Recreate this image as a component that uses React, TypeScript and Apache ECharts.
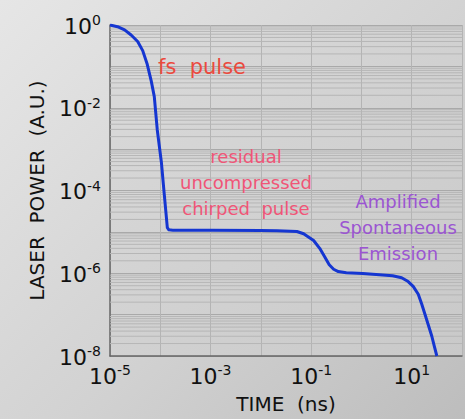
import React, { useEffect, useRef } from "react";
import * as echarts from "echarts";

const timeNs = [
  1e-5, 1.41e-5, 1.95e-5, 2.63e-5, 3.55e-5, 4.47e-5, 5.5e-5, 6.6e-5, 7.6e-5, 8.7e-5,
  1.05e-4, 1.2e-4, 1.38e-4, 1.48e-4, 1.78e-4, 1e-3, 1e-2, 2.1e-2, 5.2e-2, 7.1e-2,
  8.1e-2, 0.112, 0.148, 0.182, 0.229, 0.28, 0.347, 0.5, 1.07, 4.17,
  6.3, 8.5, 10.7, 13.5, 15.8, 18.2, 21.4, 25.1, 28.2, 31.6,
];
const power = [
  1, 0.91, 0.76, 0.575, 0.4, 0.24, 0.112, 0.0447, 0.0186, 0.00295,
  4.9e-4, 8.1e-5, 1.26e-5, 1.12e-5, 1.1e-5, 1.09e-5, 1.08e-5, 1.07e-5, 1.02e-5, 9.0e-6,
  8.1e-6, 6.2e-6, 4.0e-6, 2.6e-6, 1.6e-6, 1.25e-6, 1.1e-6, 1.03e-6, 9.8e-7, 8.7e-7,
  7.8e-7, 6.3e-7, 4.8e-7, 3.1e-7, 1.8e-7, 1.05e-7, 5.6e-8, 3e-8, 1.7e-8, 1e-8,
];

const yMinorExps = [-8, -7, -6, -5, -4, -3, -2, -1];
const minorMultipliers = [2, 3, 4, 5, 6, 7, 8, 9];

const xTitle = "TIME  (ns)";
const yTitle = "LASER  POWER  (A.U.)";

const annotations = [
  { text: "fs  pulse", x: 158, y: 67, color: "#eb4a3e", size: 21, align: "left" },
  { text: "residual\nuncompressed\nchirped  pulse", x: 246, y: 182, color: "#f05577", size: 18, align: "center" },
  { text: "Amplified\nSpontaneous\nEmission", x: 398, y: 227, color: "#9b55d2", size: 18, align: "center" },
];

const FONT = "DejaVu Sans";

function expLabel(value: number, show: (e: number) => boolean) {
  const e = Math.round(Math.log10(value));
  if (!show(e)) return "";
  return `{b|10}{s|${e}}`;
}

export default function App() {
  const ref = useRef<HTMLDivElement>(null);
  useEffect(() => {
    if (!ref.current) return;
    const chart = echarts.init(ref.current, undefined, { renderer: "svg" });
    const minorValues: number[] = [];
    yMinorExps.forEach((e) => {
      minorMultipliers.forEach((m) => {
        minorValues.push(m * Math.pow(10, e));
      });
    });
    const rich = {
      b: { fontSize: 22, fontFamily: FONT, color: "#111", verticalAlign: "bottom" },
      s: { fontSize: 14, fontFamily: FONT, color: "#111", verticalAlign: "top", padding: [0, 0, 10, 0] },
    };
    chart.setOption({
      animation: false,
      grid: {
        left: 110,
        right: -3,
        top: 25,
        bottom: 56,
        show: true,
        borderWidth: 0,
        backgroundColor: new echarts.graphic.LinearGradient(0, 0, 1, 1, [
          { offset: 0, color: "#dadada" },
          { offset: 1, color: "#c9c9c9" },
        ]),
      },
      xAxis: {
        type: "log",
        logBase: 10,
        min: 1e-5,
        max: 1e2,
        splitNumber: 7,
        name: xTitle,
        nameLocation: "middle",
        nameGap: 38,
        nameTextStyle: { fontSize: 20, fontFamily: FONT, color: "#111" },
        axisLine: { show: true, lineStyle: { color: "#666", width: 1.5 } },
        axisTick: { show: false },
        axisLabel: {
          margin: 7,
          formatter: (v: number) => expLabel(v, (e) => Math.abs(e) % 2 === 1),
          rich,
          showMinLabel: true,
        },
        splitLine: { show: true, lineStyle: { color: "#b4b4b4", width: 1 } },
      },
      yAxis: {
        type: "log",
        logBase: 10,
        min: 1e-8,
        max: 1,
        splitNumber: 8,
        name: yTitle,
        nameLocation: "middle",
        nameGap: 63,
        nameRotate: 90,
        nameTextStyle: { fontSize: 20, fontFamily: FONT, color: "#111" },
        axisLine: { show: true, lineStyle: { color: "#666", width: 1.5 } },
        axisTick: { show: false },
        axisLabel: {
          margin: 9,
          formatter: (v: number) => expLabel(v, (e) => e % 2 === 0),
          rich,
          showMinLabel: true,
          showMaxLabel: true,
        },
        splitLine: { show: true, lineStyle: { color: "#a9a9a9", width: 1 } },
      },
      series: [
        {
          type: "custom",
          silent: true,
          z: 1,
          data: minorValues.map((v) => [v]),
          renderItem: (params: any, api: any) => {
            const cs = params.coordSys;
            const y = api.coord([1e-5, api.value(0)])[1];
            return {
              type: "line",
              shape: { x1: cs.x, y1: y, x2: cs.x + cs.width, y2: y },
              style: { stroke: "#b6b6b6", lineWidth: 1 },
            };
          },
          encode: { y: 0 },
        },
        {
          type: "line",
          data: timeNs.map((t, i) => [t, power[i]]),
          showSymbol: false,
          smooth: false,
          lineStyle: { color: "#1536d1", width: 3, join: "round" },
          z: 5,
        },
      ],
      graphic: annotations.map((a) => ({
        type: "text",
        left: a.align === "left" ? a.x : undefined,
        x: a.align === "left" ? undefined : a.x,
        y: a.y,
        style: {
          text: a.text,
          fill: a.color,
          fontSize: a.size,
          fontFamily: FONT,
          align: a.align,
          verticalAlign: "middle",
          lineHeight: 26,
        },
        z: 10,
      })),
    });
    return () => chart.dispose();
  }, []);
  return (
    <div
      style={{
        position: "fixed",
        left: 0,
        top: 0,
        width: 465,
        height: 419,
        background: "linear-gradient(135deg, #e6e6e6 0%, #d2d2d2 55%, #bdbdbd 100%)",
      }}
    >
      <div ref={ref} style={{ width: 465, height: 419 }} />
    </div>
  );
}
